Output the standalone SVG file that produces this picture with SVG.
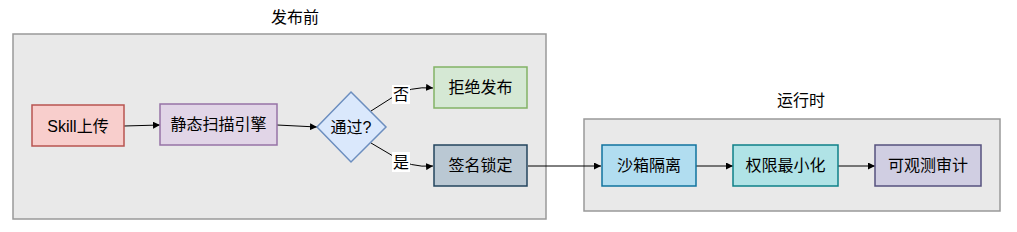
<svg xmlns="http://www.w3.org/2000/svg" width="1017" height="232" viewBox="0 0 1017 232">
<defs>
<marker id="arr" viewBox="0 0 10 10" refX="10" refY="5" markerWidth="7" markerHeight="7" markerUnits="userSpaceOnUse" orient="auto">
<path d="M0,0 L10,5 L0,10 z" fill="#000"/>
</marker>
<style>
text{font-family:"Liberation Sans","Noto Sans CJK SC",sans-serif;font-size:16px;fill:#000;text-anchor:middle;dominant-baseline:central}
.cont{fill:#e9e9e9;stroke:#999;stroke-width:1.5}
.node{stroke-width:1.5}
.edge{fill:none;stroke:#000;stroke-width:1;marker-end:url(#arr)}
.lbl{fill:#fff}
</style>
</defs>
<g id="pre">
<rect class="cont" x="13" y="34" width="533" height="185"/>
<text x="295" y="17">发布前</text>
</g>
<g id="runtime">
<rect class="cont" x="584" y="119" width="416" height="92"/>
<text x="801" y="100">运行时</text>
</g>
<g id="connectors">
<path class="edge" d="M124,126 L160,125"/>
<path class="edge" d="M277,125 L317,127"/>
<path class="edge" d="M371,111 L393,97 Q410,86 433,88"/>
<path class="edge" d="M371,143 L393,156 Q410,168 433,166"/>
<path class="edge" d="M528,166 L601,166"/>
<path class="edge" d="M696,166 L733,166"/>
<path class="edge" d="M838,166 L875,166"/>
<rect class="lbl" x="392" y="85" width="18" height="19"/>
<text x="401" y="94">否</text>
<rect class="lbl" x="392" y="152" width="18" height="20"/>
<text x="401" y="162">是</text>
</g>
<g id="skill">
<rect class="node" x="32" y="105" width="92" height="41" fill="#f8cecc" stroke="#b85450"/>
<text x="78" y="126">Skill上传</text>
</g>
<g id="scan">
<rect class="node" x="160" y="104" width="117" height="41" fill="#e1d5e7" stroke="#9673a6"/>
<text x="218.5" y="124.5">静态扫描引擎</text>
</g>
<g id="pass">
<polygon class="node" points="351,92 386,127 351,162 317,127" fill="#dae8fc" stroke="#6c8ebf"/>
<text x="351" y="127">通过?</text>
</g>
<g id="reject">
<rect class="node" x="434" y="67" width="93" height="41" fill="#d5e8d4" stroke="#82b366"/>
<text x="480.5" y="87.5">拒绝发布</text>
</g>
<g id="sign">
<rect class="node" x="434" y="145" width="93" height="41" fill="#bac8d3" stroke="#23445d"/>
<text x="480.5" y="165.5">签名锁定</text>
</g>
<g id="sandbox">
<rect class="node" x="602" y="145" width="94" height="41" fill="#b1ddf0" stroke="#10739e"/>
<text x="649" y="165.5">沙箱隔离</text>
</g>
<g id="perm">
<rect class="node" x="733" y="145" width="105" height="41" fill="#b0e3e6" stroke="#0e8088"/>
<text x="785.5" y="165.5">权限最小化</text>
</g>
<g id="audit">
<rect class="node" x="875" y="145" width="106" height="41" fill="#d0cee2" stroke="#56517e"/>
<text x="928" y="165.5">可观测审计</text>
</g>
</svg>
